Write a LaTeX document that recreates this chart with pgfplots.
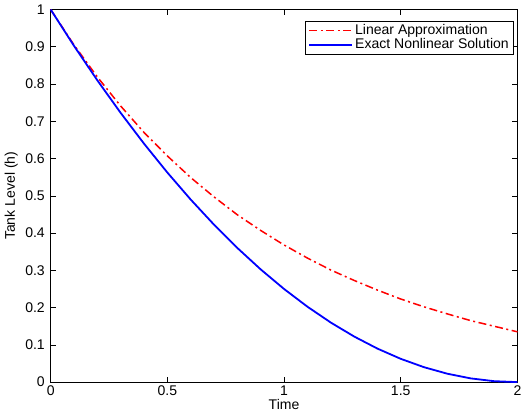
\documentclass[border=0pt]{standalone}
\usepackage{fontspec}
\setmainfont{Liberation Sans}
\usepackage{pgfplots}
\pgfplotsset{compat=1.18}
\begin{document}
\fontsize{14bp}{16bp}\selectfont
\begin{tikzpicture}
\begin{axis}[
    scale only axis,
    width=466bp, height=372bp,
    xmin=0, xmax=2, ymin=0, ymax=1,
    xtick={0,0.5,1,1.5,2},
    ytick={0,0.1,...,1.0},
    yticklabels={0,0.1,0.2,0.3,0.4,0.5,0.6,0.7,0.8,0.9,1},
    xticklabels={0,0.5,1,1.5,2},
    tick align=inside,
    tick style={black, line width=0.6bp},
    major tick length=5bp,
    xlabel={Time}, ylabel={Tank Level (h)},
    xlabel style={yshift=6bp},
    ylabel style={yshift=-2bp},
    xticklabel style={yshift=1bp},
    yticklabel style={xshift=-1bp},
    ticklabel style={font=\fontsize{14bp}{16bp}\selectfont},
    label style={font=\fontsize{14bp}{16bp}\selectfont},
    legend style={at={(0.993,0.97)}, anchor=north east, draw=black, line width=0.8bp, font=\fontsize{14bp}{16bp}\selectfont, inner xsep=3bp, inner ysep=1.5bp, row sep=-2bp},
    legend image code/.code={\draw[#1] (0bp,0bp) -- (43bp,0bp);},
    legend cell align=left,
    /pgf/number format/assume math mode=true,
    axis line style={black, line width=1bp},
    clip=false,
]
\addplot[red, line width=1.5bp, dash pattern=on 8bp off 3.5bp on 2bp off 3.5bp] coordinates {
(0,1) (0.1,0.905) (0.2,0.819) (0.3,0.741) (0.4,0.670) (0.5,0.607) (0.6,0.549)
(0.7,0.497) (0.8,0.449) (0.9,0.407) (1.0,0.368) (1.1,0.333) (1.2,0.301)
(1.3,0.273) (1.4,0.247) (1.5,0.223) (1.6,0.202) (1.7,0.183) (1.8,0.165)
(1.9,0.150) (2.0,0.135)
};
\addlegendentry{Linear Approximation}
\addplot[blue, line width=1.8bp] coordinates {
(0,1) (0.1,0.9025) (0.2,0.81) (0.3,0.7225) (0.4,0.64) (0.5,0.5625) (0.6,0.49)
(0.7,0.4225) (0.8,0.36) (0.9,0.3025) (1.0,0.25) (1.1,0.2025) (1.2,0.16)
(1.3,0.1225) (1.4,0.09) (1.5,0.0625) (1.6,0.04) (1.7,0.0225) (1.8,0.01)
(1.9,0.0025) (2.0,0)
};
\addlegendentry{Exact Nonlinear Solution}
\end{axis}
\end{tikzpicture}
\end{document}
